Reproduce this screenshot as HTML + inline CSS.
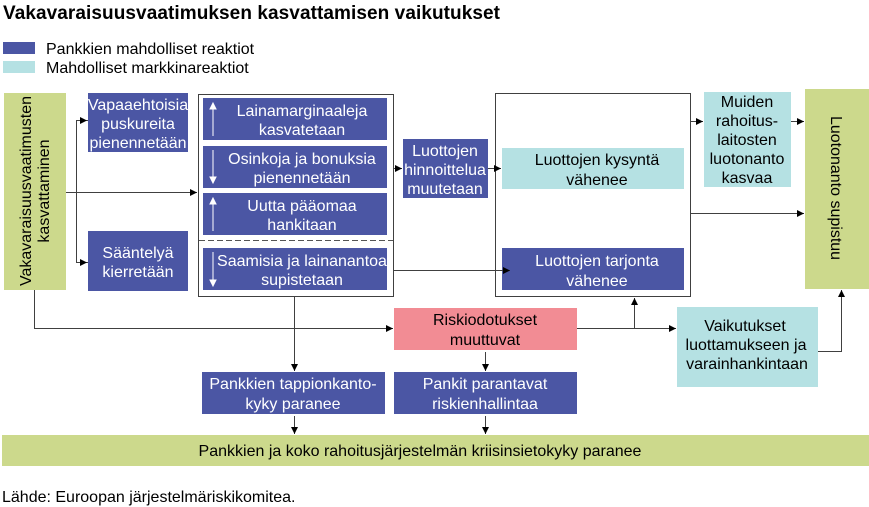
<!DOCTYPE html>
<html><head><meta charset="utf-8"><style>
body{margin:0;background:#fff;}
svg{display:block;font-family:"Liberation Sans",Arial,sans-serif;}
.w{fill:#fff;font-size:16px;text-anchor:middle}
.k{fill:#000;font-size:16px;text-anchor:middle}
.l{stroke:#404040;stroke-width:1;fill:none}
</style></head><body>
<svg width="869" height="507" viewBox="0 0 869 507" xmlns="http://www.w3.org/2000/svg">
<defs><marker id="a" markerWidth="8" markerHeight="8" refX="7" refY="4" orient="auto" markerUnits="userSpaceOnUse"><path d="M0,0.5 L7,4 L0,7.5 z" fill="#000"/></marker>
</defs>
<text x="3" y="19" font-size="19" font-weight="bold" fill="#000" textLength="497">Vakavaraisuusvaatimuksen kasvattamisen vaikutukset</text>
<rect x="3" y="42" width="32" height="12" fill="#4B56A4"/>
<rect x="3" y="61" width="32" height="12" fill="#B5E1E3"/>
<text x="46" y="54" font-size="16">Pankkien mahdolliset reaktiot</text>
<text x="46" y="73" font-size="16">Mahdolliset markkinareaktiot</text>

<rect x="4" y="93" width="62" height="197" fill="#CCD98C"/>
<text transform="translate(35,191) rotate(-90)" class="k"><tspan x="0" y="-4">Vakavaraisuusvaatimusten</tspan><tspan x="0" y="14">kasvattaminen</tspan></text>

<rect x="88" y="93" width="100" height="59" fill="#4B56A4"/>
<text class="w"><tspan x="138" y="110">Vapaaehtoisia</tspan><tspan x="138" y="129">puskureita</tspan><tspan x="138" y="148">pienennetään</tspan></text>
<rect x="88" y="231" width="100" height="60" fill="#4B56A4"/>
<text class="w"><tspan x="138" y="258">Sääntelyä</tspan><tspan x="138" y="277">kierretään</tspan></text>

<rect x="198.5" y="94.5" width="195" height="202" fill="none" stroke="#404040"/>
<line x1="199" y1="240.5" x2="393" y2="240.5" stroke="#555" stroke-dasharray="6,3"/>
<rect x="203" y="98" width="184" height="42" fill="#4B56A4"/>
<text class="w"><tspan x="302" y="116">Lainamarginaaleja</tspan><tspan x="302" y="135">kasvatetaan</tspan></text>
<rect x="203" y="146" width="184" height="42" fill="#4B56A4"/>
<text class="w"><tspan x="302" y="164">Osinkoja ja bonuksia</tspan><tspan x="302" y="183">pienennetään</tspan></text>
<rect x="203" y="193" width="184" height="42" fill="#4B56A4"/>
<text class="w"><tspan x="302" y="211">Uutta pääomaa</tspan><tspan x="302" y="230">hankitaan</tspan></text>
<rect x="203" y="248" width="184" height="42" fill="#4B56A4"/>
<text class="w"><tspan x="302" y="266">Saamisia ja lainanantoa</tspan><tspan x="302" y="285">supistetaan</tspan></text>
<g stroke="#fff" stroke-width="1" fill="#fff">
<line x1="213" y1="136" x2="213" y2="107"/><path d="M210,109 L213,103 L216,109z"/>
<line x1="213" y1="150" x2="213" y2="179"/><path d="M210,177 L213,183 L216,177z"/>
<line x1="213" y1="231" x2="213" y2="202"/><path d="M210,204 L213,198 L216,204z"/>
<line x1="213" y1="252" x2="213" y2="282"/><path d="M210,280 L213,286 L216,280z"/>
</g>

<rect x="403" y="139" width="85" height="59" fill="#4B56A4"/>
<text class="w"><tspan x="445" y="156">Luottojen</tspan><tspan x="445" y="175">hinnoittelua</tspan><tspan x="445" y="194">muutetaan</tspan></text>

<rect x="495.5" y="93.5" width="195" height="203" fill="none" stroke="#404040"/>
<rect x="502" y="148" width="182" height="41" fill="#B5E1E3"/>
<text class="k"><tspan x="597" y="165">Luottojen kysyntä</tspan><tspan x="597" y="185">vähenee</tspan></text>
<rect x="502" y="248" width="182" height="42" fill="#4B56A4"/>
<text class="w"><tspan x="597" y="266">Luottojen tarjonta</tspan><tspan x="597" y="286">vähenee</tspan></text>

<rect x="704" y="92" width="87" height="95" fill="#B5E1E3"/>
<text class="k"><tspan x="747" y="107">Muiden</tspan><tspan x="747" y="126">rahoitus-</tspan><tspan x="747" y="145">laitosten</tspan><tspan x="747" y="164">luotonanto</tspan><tspan x="747" y="183">kasvaa</tspan></text>

<rect x="805" y="89" width="64" height="200" fill="#CCD98C"/>
<text transform="translate(837,188) rotate(90)" class="k" y="6">Luotonanto supistuu</text>

<rect x="394" y="308" width="183" height="42" fill="#F28C94"/>
<text class="k"><tspan x="485" y="325">Riskiodotukset</tspan><tspan x="485" y="345">muuttuvat</tspan></text>

<rect x="677" y="307" width="141" height="80" fill="#B5E1E3"/>
<text class="k"><tspan x="745" y="331">Vaikutukset</tspan><tspan x="746" y="350">luottamukseen ja</tspan><tspan x="747" y="369">varainhankintaan</tspan></text>

<rect x="202" y="372" width="183" height="42" fill="#4B56A4"/>
<text class="w"><tspan x="293" y="389">Pankkien tappionkanto-</tspan><tspan x="293" y="409">kyky paranee</tspan></text>
<rect x="394" y="372" width="183" height="42" fill="#4B56A4"/>
<text class="w"><tspan x="485" y="389">Pankit parantavat</tspan><tspan x="485" y="409">riskienhallintaa</tspan></text>

<rect x="2" y="435" width="867" height="31" fill="#CCD98C"/>
<text class="k" x="420" y="456">Pankkien ja koko rahoitusjärjestelmän kriisinsietokyky paranee</text>

<text x="2" y="502" font-size="16">Lähde: Euroopan järjestelmäriskikomitea.</text>

<g class="l">
<path d="M66,192.5 H197" marker-end="url(#a)"/>
<path d="M88,120.5 H76.5 V262.5 H88" />
<path d="M76,120.5 H87" marker-end="url(#a)"/>
<path d="M76,262.5 H87" marker-end="url(#a)"/>
<path d="M34.5,290 V328.5 H393" marker-end="url(#a)"/>
<path d="M394,168.5 H402" marker-end="url(#a)"/>
<path d="M488,168.5 H501" marker-end="url(#a)"/>
<path d="M394,270.5 H510" marker-end="url(#a)"/>
<path d="M294.5,297 V371" marker-end="url(#a)"/>
<path d="M485.5,352 V371" marker-end="url(#a)"/>
<path d="M577,328.5 H676" marker-end="url(#a)"/>
<path d="M634.5,328 V298" marker-end="url(#a)"/>
<path d="M691,121.5 H703" marker-end="url(#a)"/>
<path d="M791,121.5 H804" marker-end="url(#a)"/>
<path d="M691,213.5 H804" marker-end="url(#a)"/>
<path d="M818,351.5 H841.5 V290" marker-end="url(#a)"/>
<path d="M294.5,416 V434" marker-end="url(#a)"/>
<path d="M485.5,416 V434" marker-end="url(#a)"/>
</g>
</svg>
</body></html>
